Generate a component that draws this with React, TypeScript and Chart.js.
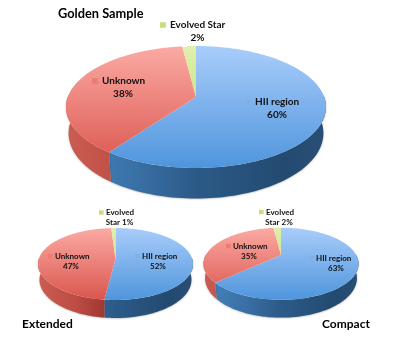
import React, { useEffect, useRef } from "react";
import { Chart, registerables } from "chart.js";

Chart.register(...registerables);

const categories = ["HII region", "Unknown", "Evolved Star"];
const goldenValues = [60, 38, 2];
const extendedValues = [52, 47, 1];
const compactValues = [63, 35, 2];

const topStops = [
  ["#a9cdfb", "#4f95dc"],
  ["#fbaaa4", "#da564d"],
  ["#dff0ad", "#b4d560"],
];
const wallStops = [
  ["#4583bd", "#3a72a8", "#2c5a88", "#234a70", "#2a4f75"],
  ["#cb5c52", "#bd4c43", "#94302c", "#7f2825", "#7f2825"],
  ["#9ab84f", "#9ab84f", "#87a544", "#87a544", "#87a544"],
];
const wallOffsets = [0, 0.25, 0.5, 0.85, 1];
const keyColors = ["#7fb0e8", "#ee7a72", "#c4de78"];

type Label = { lines: string[]; keyX: number; textX: number; midX: number; y: number; lh: number; size: number };
type Panel = {
  values: number[];
  cx: number; yt: number; y0: number; yb: number; rx: number; depth: number;
  labels: Label[];
  title: { text: string; x: number; y: number; size: number };
};

const panels: Panel[] = [
  {
    values: goldenValues, cx: 196, yt: 46, y0: 97, yb: 168, rx: 130, depth: 25.5,
    labels: [
      { lines: [categories[0], `${goldenValues[0]}%`], keyX: 246, textX: 255, midX: 277, y: 102, lh: 13, size: 10 },
      { lines: [categories[1], `${goldenValues[1]}%`], keyX: 92, textX: 102, midX: 123, y: 81, lh: 13, size: 10 },
      { lines: [categories[2], `${goldenValues[2]}%`], keyX: 160, textX: 170, midX: 197.5, y: 25, lh: 13, size: 10 },
    ],
    title: { text: "Golden Sample", x: 58, y: 14, size: 12.8 },
  },
  {
    values: extendedValues, cx: 115.5, yt: 228, y0: 259, yb: 300, rx: 77.5, depth: 15.5,
    labels: [
      { lines: [categories[0], `${extendedValues[0]}%`], keyX: 135, textX: 142, midX: 158, y: 256, lh: 10, size: 8 },
      { lines: [categories[1], `${extendedValues[1]}%`], keyX: 48, textX: 55, midX: 71, y: 256, lh: 10, size: 8 },
      { lines: ["Evolved", `Star ${extendedValues[2]}%`], keyX: 99, textX: 106, midX: 119.5, y: 212.5, lh: 10, size: 8 },
    ],
    title: { text: "Extended", x: 22, y: 324, size: 12 },
  },
  {
    values: compactValues, cx: 281, yt: 227.7, y0: 255, yb: 299.8, rx: 77.5, depth: 13.5,
    labels: [
      { lines: [categories[0], `${compactValues[0]}%`], keyX: 309, textX: 316, midX: 336, y: 258, lh: 10, size: 8 },
      { lines: [categories[1], `${compactValues[1]}%`], keyX: 226, textX: 233, midX: 249, y: 246, lh: 10, size: 8 },
      { lines: ["Evolved", `Star ${compactValues[2]}%`], keyX: 259, textX: 266, midX: 279, y: 212, lh: 10, size: 8 },
    ],
    title: { text: "Compact", x: 322, y: 324, size: 12 },
  },
];

const FONT = "Lato";

function project(p: Panel) {
  const up = p.y0 - p.yt;
  const dn = p.yb - p.y0;
  const c = (up - dn) / (up + dn);
  const A = up * (1 - c);
  const R = p.rx * Math.sqrt(1 - c * c);
  return (theta: number) => {
    const u = Math.cos(theta);
    const v = Math.sin(theta);
    const w = 1 + c * v;
    return { x: p.cx + (R * u) / w, y: p.y0 + (A * v) / w, w };
  };
}

const perspectivePlugin = {
  id: "perspectivePie",
  beforeDatasetsDraw(chart: any, _a: any, opts: any) {
    const p: Panel = opts.panel;
    const ctx: CanvasRenderingContext2D = chart.ctx;
    const arcs = chart.getDatasetMeta(0).data;
    const proj = project(p);
    ctx.save();
    // outer walls first, the top face covers what lies behind it
    arcs.forEach((arc: any, i: number) => {
      const n = 120;
      const top: { x: number; y: number }[] = [];
      const low: { x: number; y: number }[] = [];
      for (let k = 0; k <= n; k++) {
        const t = arc.startAngle + ((arc.endAngle - arc.startAngle) * k) / n;
        if (Math.sin(t) < -0.05) continue;
        const q = proj(t);
        top.push(q);
        low.push({ x: p.cx + (q.x - p.cx) * 0.98, y: q.y + p.depth / q.w });
      }
      if (!top.length) return;
      const g = ctx.createLinearGradient(p.cx - p.rx, 0, p.cx + p.rx, 0);
      wallStops[i].forEach((col, s) => g.addColorStop(wallOffsets[s], col));
      ctx.fillStyle = g;
      ctx.shadowColor = "rgba(0,0,0,0.3)";
      ctx.shadowBlur = 2;
      ctx.shadowOffsetY = 0.5;
      ctx.beginPath();
      top.forEach((q, k) => (k ? ctx.lineTo(q.x, q.y) : ctx.moveTo(q.x, q.y)));
      low.reverse().forEach((q) => ctx.lineTo(q.x, q.y));
      ctx.closePath();
      ctx.fill();
    });
    ctx.shadowColor = "transparent";
    ctx.shadowBlur = 0;
    ctx.shadowOffsetY = 0;
    // top faces
    arcs.forEach((arc: any, i: number) => {
      const g = ctx.createLinearGradient(0, p.yt, 0, p.yb);
      g.addColorStop(0, topStops[i][0]);
      g.addColorStop(1, topStops[i][1]);
      ctx.fillStyle = g;
      ctx.beginPath();
      ctx.moveTo(p.cx, p.y0);
      const n = 160;
      for (let k = 0; k <= n; k++) {
        const t = arc.startAngle + ((arc.endAngle - arc.startAngle) * k) / n;
        const q = proj(t);
        ctx.lineTo(q.x, q.y);
      }
      ctx.closePath();
      ctx.fill();
    });
    // labels
    ctx.textBaseline = "middle";
    p.labels.forEach((l, i) => {
      const s = l.size;
      ctx.fillStyle = keyColors[i];
      ctx.fillRect(l.keyX, l.y - s * 0.27, s * 0.58, s * 0.54);
      ctx.fillStyle = "#111111";
      ctx.font = `bold ${s}px ${FONT}`;
      ctx.textAlign = "left";
      ctx.fillText(l.lines[0], l.textX, l.y);
      ctx.textAlign = "center";
      ctx.fillText(l.lines[1], l.midX, l.y + l.lh);
    });
    ctx.textAlign = "left";
    ctx.fillStyle = "#000000";
    ctx.font = `bold ${p.title.size}px ${FONT}`;
    ctx.fillText(p.title.text, p.title.x, p.title.y);
    ctx.restore();
    return false;
  },
};

function Pie({ panel }: { panel: Panel }) {
  const ref = useRef<HTMLCanvasElement>(null);
  useEffect(() => {
    const chart = new Chart(ref.current!, {
      type: "pie",
      data: {
        labels: categories,
        datasets: [{ data: panel.values, borderWidth: 0 }],
      },
      options: {
        animation: false,
        responsive: false,
        plugins: {
          legend: { display: false },
          tooltip: { enabled: false },
          perspectivePie: { panel },
        } as any,
      },
      plugins: [perspectivePlugin as any],
    });
    return () => chart.destroy();
  }, [panel]);
  return (
    <canvas
      ref={ref}
      width={395}
      height={339}
      style={{ position: "absolute", left: 0, top: 0, width: 395, height: 339 }}
    />
  );
}

export default function App() {
  return (
    <div style={{ position: "fixed", left: 0, top: 0, width: 395, height: 339, background: "#fff", overflow: "hidden", filter: "blur(0.45px)" }}>
      {panels.map((p) => (
        <Pie key={p.title.text} panel={p} />
      ))}
    </div>
  );
}
